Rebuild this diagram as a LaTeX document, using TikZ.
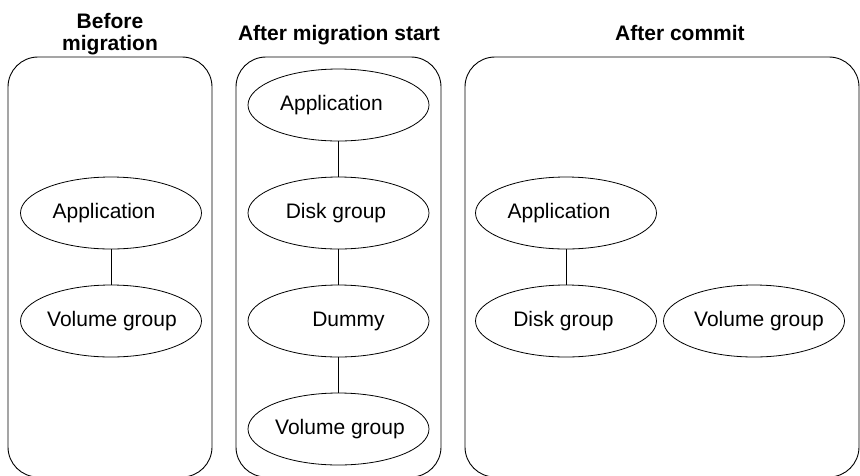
\documentclass[tikz,border=0pt]{standalone}
\usepackage{fontspec}
\setmainfont{Liberation Sans}
\usetikzlibrary{shapes.geometric}
\tikzset{
  panel/.style={draw=black, line width=0.9pt, rounded corners=30pt},
  oval/.style={draw=black, ellipse, line width=0.8pt, minimum width=181pt, minimum height=72pt, inner sep=0pt, outer sep=0pt, font=\fontsize{21}{24}\selectfont},
  title/.style={font=\fontsize{21}{22.5}\selectfont\bfseries, align=center, inner sep=0pt},
  link/.style={draw=black, line width=0.8pt}
}
\newcommand{\zt}[2][0pt]{\makebox[0pt]{\hspace{#1}\hspace{#1}#2}}
\begin{document}
\begin{tikzpicture}[x=1pt, y=-1pt]
\useasboundingbox (0,0) rectangle (860,475);
% panels
\draw[panel] (8,57) rectangle (212,477);
\draw[panel] (236,57) rectangle (441,477);
\draw[panel] (465,57) rectangle (859,477);
% titles
\node[title] (t1) at (110,34) {Before\\migration};
\node[title, anchor=base] (t2) at (339,40) {After migration start};
\node[title, anchor=base] (t3) at (680,40) {After commit};
% panel 1
\node[oval] (a1) at (111,213) {\zt[-7pt]{Application}};
\node[oval] (v1) at (111,321) {\zt[1pt]{Volume group}};
\draw[link] (a1) -- (v1);
% panel 2
\node[oval] (a2) at (338.5,105) {\zt[-7pt]{Application}};
\node[oval] (d2) at (338.5,213) {\zt[-2.5pt]{Disk group}};
\node[oval] (m2) at (338.5,321) {\zt[10pt]{Dummy}};
\node[oval] (v2) at (338.5,429) {\zt[1.5pt]{Volume group}};
\draw[link] (a2) -- (d2);
\draw[link] (d2) -- (m2);
\draw[link] (m2) -- (v2);
% panel 3
\node[oval] (a3) at (566,213) {\zt[-7pt]{Application}};
\node[oval] (d3) at (566,321) {\zt[-2.5pt]{Disk group}};
\node[oval] (v3) at (754,321) {\zt[5pt]{Volume group}};
\draw[link] (a3) -- (d3);
\end{tikzpicture}
\end{document}
